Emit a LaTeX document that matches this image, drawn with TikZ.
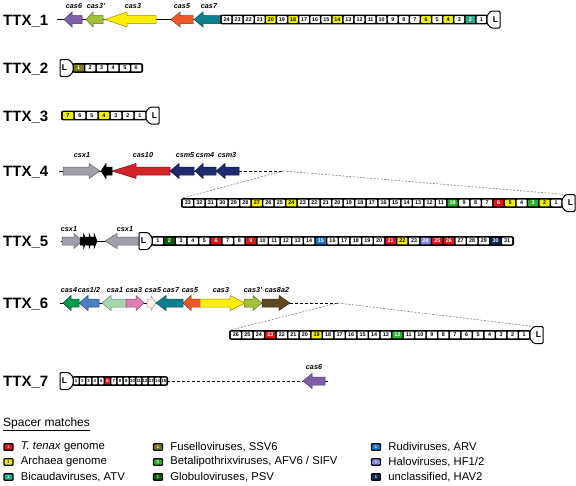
\documentclass[tikz,border=0pt]{standalone}
\usepackage{fontspec}
\setmainfont{Liberation Sans}
\usepackage{tikz}
\usepackage{xcolor}
\usetikzlibrary{positioning}

% gene colours
\definecolor{cpurple}{HTML}{7F5FA8}
\definecolor{clime}{HTML}{A3C03A}
\definecolor{cyellow}{HTML}{FFEE00}
\definecolor{corange}{HTML}{F0582A}
\definecolor{cteal}{HTML}{0E7F8C}
\definecolor{cgrey}{HTML}{A39FAA}
\definecolor{cred}{HTML}{D2232A}
\definecolor{cnavy}{HTML}{1E2A6E}
\definecolor{cgreen}{HTML}{009A4E}
\definecolor{cblue}{HTML}{4A7FC1}
\definecolor{cmint}{HTML}{A8D5B0}
\definecolor{cpink}{HTML}{E27DB5}
\definecolor{ccream}{HTML}{FFF7EC}
\definecolor{cbrown}{HTML}{5E4A1E}
% spacer match colours
\definecolor{mtten}{HTML}{E3151B}
\definecolor{march}{HTML}{F2F200}
\definecolor{mbica}{HTML}{2BAA8C}
\definecolor{mfuse}{HTML}{7F7A16}
\definecolor{mbeta}{HTML}{2DB02D}
\definecolor{mglob}{HTML}{0F5F12}
\definecolor{mrudi}{HTML}{1F78C4}
\definecolor{mhalo}{HTML}{8A84F0}
\definecolor{muncl}{HTML}{13284F}

% tail, head base, tip, y, colour
\newcommand{\gene}[5]{%
  \filldraw[gene, fill=#5, draw=#5!60!black] (#1,#4-4) -- (#2,#4-4) -- (#2,#4-7.5) -- (#3,#4)
    -- (#2,#4+7.5) -- (#2,#4+4) -- (#1,#4+4) -- cycle;}
% [options] name, left x, right x, y, pitch, list number/match
\newcommand{\spacerrow}[7][]{%
  \fill[black, rounded corners=2pt] (#3-1,#5-4.8) rectangle (#4+1,#5+4.8);
  \coordinate (#2w) at (#3,#5);
  \coordinate (#2e) at (#4,#5);
  \coordinate (#2nw) at (#3,#5-4.8);
  \pgfmathsetmacro\spw{#6-1.5}
  \foreach \n/\c [count=\i] in {#7}
    \node[spacer, \c, minimum width=\spw pt, #1] (#2-\n) at ({#3+(\i-0.5)*#6},#5) {\n};}
% name, x at the array, y, side (1 right, -1 left)
\newcommand{\leadbox}[4]{%
  \filldraw[fill=white, draw=black, line width=1pt, rounded corners=1.2pt]
    (#2,#3-4) -- ({#2+(#4)*4},#3-8.5) -- ({#2+(#4)*13},#3-8.5) -- ({#2+(#4)*13},#3+8.5)
    -- ({#2+(#4)*4},#3+8.5) -- (#2,#3+4) -- cycle;
  \coordinate (#1top) at ({#2+(#4)*4},#3-8.5);
  \node[leadlab] (#1) at ({#2+(#4)*8.5},#3) {L};}

\begin{document}
\begin{tikzpicture}[x=1pt, y=-1pt,
  ttx/.style={anchor=base west, inner sep=0pt, font=\fontsize{15}{15}\selectfont\bfseries},
  genelab/.style={inner sep=0pt, font=\fontsize{7.2}{7.2}\selectfont\bfseries\itshape},
  gene/.style={line width=0.5pt},
  backbone/.style={line width=0.9pt},
  gap/.style={line width=0.9pt, dash pattern=on 3pt off 2pt},
  zoomline/.style={gray, line width=0.6pt, dash pattern=on 2pt off 1.5pt},
  spacer/.style={rounded corners=0.8pt, inner sep=0pt, minimum height=6.8pt,
    font=\fontsize{5.4}{5.4}\selectfont\bfseries},
  plain/.style={fill=white, text=black},
  tten/.style={fill=mtten, text=white},
  arch/.style={fill=march, text=black},
  bica/.style={fill=mbica, text=white},
  fuse/.style={fill=mfuse, text=white},
  beta/.style={fill=mbeta, text=white},
  glob/.style={fill=mglob, text=white},
  rudi/.style={fill=mrudi, text=white},
  halo/.style={fill=mhalo, text=white},
  uncl/.style={fill=muncl, text=white},
  leadlab/.style={inner sep=0pt, font=\fontsize{8.5}{8.5}\selectfont\bfseries},
  swatch/.style={spacer, draw=black, line width=1.3pt, minimum width=9pt, minimum height=6.5pt,
    font=\fontsize{4}{4}\selectfont\bfseries},
  keytext/.style={inner sep=0pt, font=\fontsize{11.3}{12}\selectfont}]
\useasboundingbox (0,0) rectangle (576,485);

% TTX_1
\node[ttx] (t1) at (3,25) {TTX\_1};
\coordinate (b1) at (57,19.5);
\coordinate (e1) at (221,19.5);
\draw[backbone] (b1) -- (e1);
\gene{82}{72}{64}{19.5}{cpurple}
\gene{103}{93}{86}{19.5}{clime}
\gene{156}{127}{105}{19.5}{cyellow}
\gene{193}{180}{171}{19.5}{corange}
\gene{221}{203}{194}{19.5}{cteal}
\node[genelab] (t1cas6) at (74,6) {cas6};
\node[genelab] (t1cas3b) at (96,6) {cas3'};
\node[genelab] (t1cas3) at (133,6) {cas3};
\node[genelab] (t1cas5) at (182,6) {cas5};
\node[genelab] (t1cas7) at (209,6) {cas7};
\spacerrow{a1}{221}{487}{19.5}{11.083}{24/plain,23/plain,22/plain,21/plain,20/arch,19/plain,18/arch,17/plain,16/plain,15/plain,14/arch,13/plain,12/plain,11/plain,10/plain,9/plain,8/plain,7/plain,6/arch,5/plain,4/arch,3/plain,2/bica,1/plain}
\leadbox{l1}{487}{19.5}{1}

% TTX_2
\node[ttx] (t2) at (3,73) {TTX\_2};
\spacerrow{a2}{73}{142}{68}{11.5}{1/fuse,2/plain,3/plain,4/plain,5/plain,6/plain}
\leadbox{l2}{73}{68}{-1}

% TTX_3
\node[ttx] (t3) at (3,121) {TTX\_3};
\spacerrow{a3}{62}{146}{115.5}{12}{7/arch,6/plain,5/plain,4/arch,3/plain,2/plain,1/plain}
\leadbox{l3}{146}{115.5}{1}

% TTX_4
\node[ttx] (t4) at (3,176) {TTX\_4};
\coordinate (b4) at (59,171);
\coordinate (e4) at (239,171);
\coordinate (f4) at (283,171);
\draw[backbone] (b4) -- (e4);
\draw[gap] (e4) -- (f4);
\gene{63}{89}{100}{171}{cgrey}
\gene{112}{106}{101}{171}{black}
\gene{170}{136}{112}{171}{cred}
\gene{194}{179}{170}{171}{cnavy}
\gene{216}{203}{195}{171}{cnavy}
\gene{239}{225}{216}{171}{cnavy}
\node[genelab] (t4csx1) at (82,155) {csx1};
\node[genelab] (t4cas10) at (143,155) {cas10};
\node[genelab] (t4csm5) at (185,155) {csm5};
\node[genelab] (t4csm4) at (205,155) {csm4};
\node[genelab] (t4csm3) at (227,155) {csm3};
\spacerrow{a4}{182}{562}{203}{11.515}{33/plain,32/plain,31/plain,30/plain,29/plain,28/plain,27/arch,26/plain,25/plain,24/arch,23/plain,22/plain,21/plain,20/plain,19/plain,18/plain,17/plain,16/plain,15/plain,14/plain,13/plain,12/plain,11/plain,10/beta,9/plain,8/plain,7/plain,6/tten,5/arch,4/plain,3/beta,2/arch,1/plain}
\leadbox{l4}{562}{203}{1}
\draw[zoomline] (f4) -- (a4nw);
\draw[zoomline] (f4) -- (l4top);

% TTX_5
\node[ttx] (t5) at (3,246.5) {TTX\_5};
\coordinate (b5) at (61,241);
\coordinate (e5) at (140,241);
\draw[backbone] (b5) -- (e5);
\gene{62}{74}{82}{241}{cgrey}
\gene{80}{83.5}{87}{241}{black}
\gene{86}{89}{92}{241}{black}
\gene{91}{94}{97}{241}{black}
\gene{140}{117}{105}{241}{cgrey}
\node[genelab] (t5csx1a) at (69,229) {csx1};
\node[genelab] (t5csx1b) at (125,229) {csx1};
\spacerrow{a5}{152}{513}{241}{11.645}{1/plain,2/glob,3/plain,4/plain,5/plain,6/tten,7/plain,8/plain,9/tten,10/plain,11/plain,12/plain,13/plain,14/plain,15/rudi,16/plain,17/plain,18/plain,19/plain,20/plain,21/tten,22/arch,23/plain,24/halo,25/tten,26/tten,27/plain,28/plain,29/plain,30/uncl,31/plain}
\leadbox{l5}{152}{241}{-1}

% TTX_6
\node[ttx] (t6) at (3,308) {TTX\_6};
\coordinate (b6) at (60,303);
\coordinate (e6) at (290,303);
\coordinate (f6) at (338,303);
\draw[backbone] (b6) -- (e6);
\draw[gap] (e6) -- (f6);
\gene{79}{71}{63}{303}{cgreen}
\gene{99}{88}{79}{303}{cblue}
\gene{126}{111}{102}{303}{cmint}
\gene{126}{136}{144}{303}{cpink}
\gene{147}{151}{156}{303}{ccream}
\gene{183}{166}{156}{303}{cteal}
\gene{200}{191}{183}{303}{corange}
\gene{200}{230}{245}{303}{cyellow}
\gene{244}{253}{262}{303}{clime}
\gene{262}{279}{290}{303}{cbrown}
\node[genelab] (t6cas4) at (69,290) {cas4};
\node[genelab] (t6cas12) at (89,290) {cas1/2};
\node[genelab] (t6csa1) at (115,290) {csa1};
\node[genelab] (t6csa3) at (134,290) {csa3};
\node[genelab] (t6csa5) at (153,290) {csa5};
\node[genelab] (t6cas7) at (171,290) {cas7};
\node[genelab] (t6cas5) at (190,290) {cas5};
\node[genelab] (t6cas3) at (221,290) {cas3};
\node[genelab] (t6cas3b) at (253,290) {cas3'};
\node[genelab] (t6cas8a2) at (277,290) {cas8a2};
\spacerrow{a6}{230}{530}{335}{11.538}{26/plain,25/plain,24/plain,23/tten,22/plain,21/plain,20/plain,19/arch,18/plain,17/plain,16/plain,15/plain,14/plain,13/plain,12/beta,11/plain,10/plain,9/plain,8/plain,7/plain,6/plain,5/plain,4/plain,3/plain,2/plain,1/plain}
\leadbox{l6}{530}{335}{1}
\draw[zoomline] (f6) -- (a6nw);
\draw[zoomline] (f6) -- (l6top);

% TTX_7
\node[ttx] (t7) at (3,386.5) {TTX\_7};
\coordinate (e7) at (328,381);
\coordinate (c7) at (303,381);
\draw[backbone] (c7) -- (e7);
\gene{325}{312}{303}{381}{cpurple}
\node[genelab] (t7cas6) at (314,367) {cas6};
\spacerrow[font=\fontsize{4.3}{4.3}\selectfont\bfseries]{a7}{73}{167}{381}{6.267}{1/plain,2/plain,3/plain,4/plain,5/plain,6/tten,7/plain,8/plain,9/plain,10/plain,11/plain,12/plain,13/plain,14/plain,15/plain}
\leadbox{l7}{73}{381}{-1}
\draw[gap] (a7e) -- (c7);

% legend
\node[anchor=west, inner sep=0pt, font=\fontsize{12}{12}\selectfont] (key) at (3,424) {\underline{Spacer matches}};
\node[swatch, tten] (k1) at (8.5,447) {1};
\node[swatch, arch] (k2) at (8.5,462) {1};
\node[swatch, bica] (k3) at (8.5,477) {1};
\node[swatch, fuse] (k4) at (158,447) {1};
\node[swatch, beta] (k5) at (158,462) {1};
\node[swatch, glob] (k6) at (158,477) {1};
\node[swatch, rudi] (k7) at (376,447) {1};
\node[swatch, halo] (k8) at (376,462) {1};
\node[swatch, uncl] (k9) at (376,477) {1};
\node[keytext, right=7pt of k1] (k1t) {\textit{T. tenax} genome};
\node[keytext, right=7pt of k2] (k2t) {Archaea genome};
\node[keytext, right=7pt of k3] (k3t) {Bicaudaviruses, ATV};
\node[keytext, right=7pt of k4] (k4t) {Fuselloviruses, SSV6};
\node[keytext, right=7pt of k5] (k5t) {Betalipothrixviruses, AFV6 / SIFV};
\node[keytext, right=7pt of k6] (k6t) {Globuloviruses, PSV};
\node[keytext, right=7pt of k7] (k7t) {Rudiviruses, ARV};
\node[keytext, right=7pt of k8] (k8t) {Haloviruses, HF1/2};
\node[keytext, right=7pt of k9] (k9t) {unclassified, HAV2};
\end{tikzpicture}
\end{document}
